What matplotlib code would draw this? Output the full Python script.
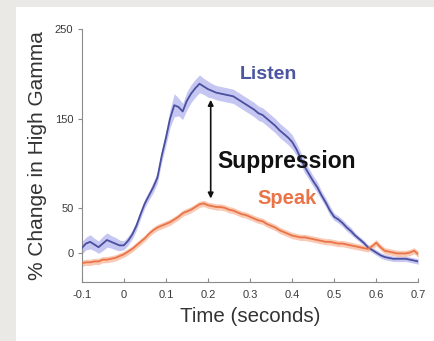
import matplotlib
matplotlib.use("Agg")
import matplotlib.pyplot as plt
from matplotlib.patches import Rectangle
import numpy as np

plt.rcParams['font.family'] = ['Liberation Sans', 'DejaVu Sans']

# Time axis (seconds), 10 ms steps from -0.1 to 0.7
time_s = np.round(np.arange(-0.10, 0.7001, 0.01), 2)

# % change in high gamma while listening
listen = [5, 10, 12, 9, 6, 10, 14, 12, 10, 8,
          8, 13, 20, 30, 43, 55, 64, 73, 84, 108,
          128, 150, 165, 163, 158, 170, 178, 184, 189, 186,
          183, 181, 179, 178, 177, 176, 175, 172, 169, 166,
          163, 160, 156, 154, 150, 146, 142, 137, 133, 129,
          124, 116, 106, 96, 88, 80, 73, 64, 56, 47,
          40, 37, 33, 28, 24, 19, 15, 11, 6, 3,
          0, -3, -5, -6, -7, -7, -7, -7, -8, -9,
          -10]
listen_err = [7, 7, 8, 7, 7, 8, 8, 7, 7, 6,
              5, 5, 5, 5, 5, 5, 5, 6, 6, 7,
              8, 10, 13, 10, 9, 10, 10, 10, 10, 9,
              9, 8, 8, 8, 8, 8, 8, 8, 8, 8,
              8, 8, 8, 8, 8, 8, 8, 8, 8, 8,
              8, 7, 7, 7, 6, 6, 6, 5, 5, 5,
              4, 4, 4, 4, 4, 3, 3, 3, 3, 3,
              3, 3, 3, 3, 3, 3, 3, 3, 3, 3,
              3]

# % change in high gamma while speaking
speak = [-12, -11, -11, -10, -10, -8, -8, -7, -6, -4,
         -2, 1, 4, 8, 12, 16, 21, 25, 28, 30,
         32, 34, 37, 40, 44, 46, 48, 51, 54, 55,
         53, 52, 51, 51, 50, 48, 47, 45, 43, 42,
         40, 38, 36, 35, 32, 30, 28, 25, 23, 21,
         19, 18, 17, 17, 16, 15, 14, 13, 12, 12,
         11, 10, 10, 9, 8, 7, 6, 5, 4, 7,
         11, 6, 2, 1, 0, -1, -1, -1, 0, 2,
         -2]
speak_err = [3.5] * len(speak)

x_ticks = [-0.1, 0, 0.1, 0.2, 0.3, 0.4, 0.5, 0.6, 0.7]
x_tick_labels = ['-0.1', '0', '0.1', '0.2', '0.3', '0.4', '0.5', '0.6', '0.7']
y_ticks = [0, 50, 150, 250]
y_tick_labels = ['0', '50', '150', '250']

listen_a = np.array(listen, dtype=float)
listen_e = np.array(listen_err, dtype=float)
speak_a = np.array(speak, dtype=float)
speak_e = np.array(speak_err, dtype=float)

blue = '#4a4f9e'
blue_fill = '#bcbcf0'
orange = '#ea7447'
orange_fill = '#f8bca2'

fig = plt.figure(figsize=(4.35, 3.41), dpi=100)
fig.patch.set_facecolor('#ebe9e5')
panel = Rectangle((16 / 435, 0), 1 - 16 / 435, 1 - 7 / 341,
                  transform=fig.transFigure, facecolor='white',
                  edgecolor='none', zorder=-10)
fig.add_artist(panel)

ax = fig.add_axes([81.7 / 435, 59 / 341, (418.3 - 81.7) / 435, (311.7 - 59) / 341])
ax.set_zorder(1)
ax.set_facecolor('none')

ax.fill_between(time_s, listen_a - listen_e, listen_a + listen_e,
                color=blue_fill, alpha=0.85, linewidth=0, zorder=2)
ax.plot(time_s, listen_a, color=blue, lw=1.3, zorder=3)
ax.fill_between(time_s, speak_a - speak_e, speak_a + speak_e,
                color=orange_fill, alpha=0.8, linewidth=0, zorder=2)
ax.plot(time_s, speak_a, color=orange, lw=1.3, zorder=3)

ax.set_xlim(-0.1, 0.7)
ax.set_ylim(-33, 250)
ax.set_xticks(x_ticks)
ax.set_xticklabels(x_tick_labels)
ax.set_yticks(y_ticks)
ax.set_yticklabels(y_tick_labels)

for side in ('top', 'right'):
    ax.spines[side].set_visible(False)
for side in ('left', 'bottom'):
    ax.spines[side].set_color('#8a8a8a')
    ax.spines[side].set_linewidth(0.8)

ax.tick_params(axis='x', direction='in', length=3, color='#8a8a8a',
               labelsize=8, labelcolor='#3a3a3a', pad=6)
ax.tick_params(axis='y', direction='out', length=3, color='#8a8a8a',
               labelsize=8, labelcolor='#3a3a3a', pad=3)

ax.set_xlabel('Time (seconds)', fontsize=14.8, color='#333333', labelpad=5)
ax.set_ylabel('% Change in High Gamma', fontsize=15, color='#333333', labelpad=6)

ax.text(0.345, 199, 'Listen', color='#4b55a0', fontsize=14, fontweight='bold',
        ha='center', va='center', zorder=5)
ax.text(0.386, 102, 'Suppression', color='#111111', fontsize=16.5, fontweight='bold',
        ha='center', va='center', zorder=5)
ax.text(0.388, 61, 'Speak', color=orange, fontsize=14.5, fontweight='bold',
        ha='center', va='center', zorder=5)

ax.annotate('', xy=(0.2066, 171), xytext=(0.2066, 60.5),
            arrowprops=dict(arrowstyle='<|-|>', color='#111111', lw=1.2,
                            mutation_scale=8, shrinkA=0, shrinkB=0), zorder=6)

fig.savefig('out.png', dpi=100, facecolor=fig.get_facecolor())
